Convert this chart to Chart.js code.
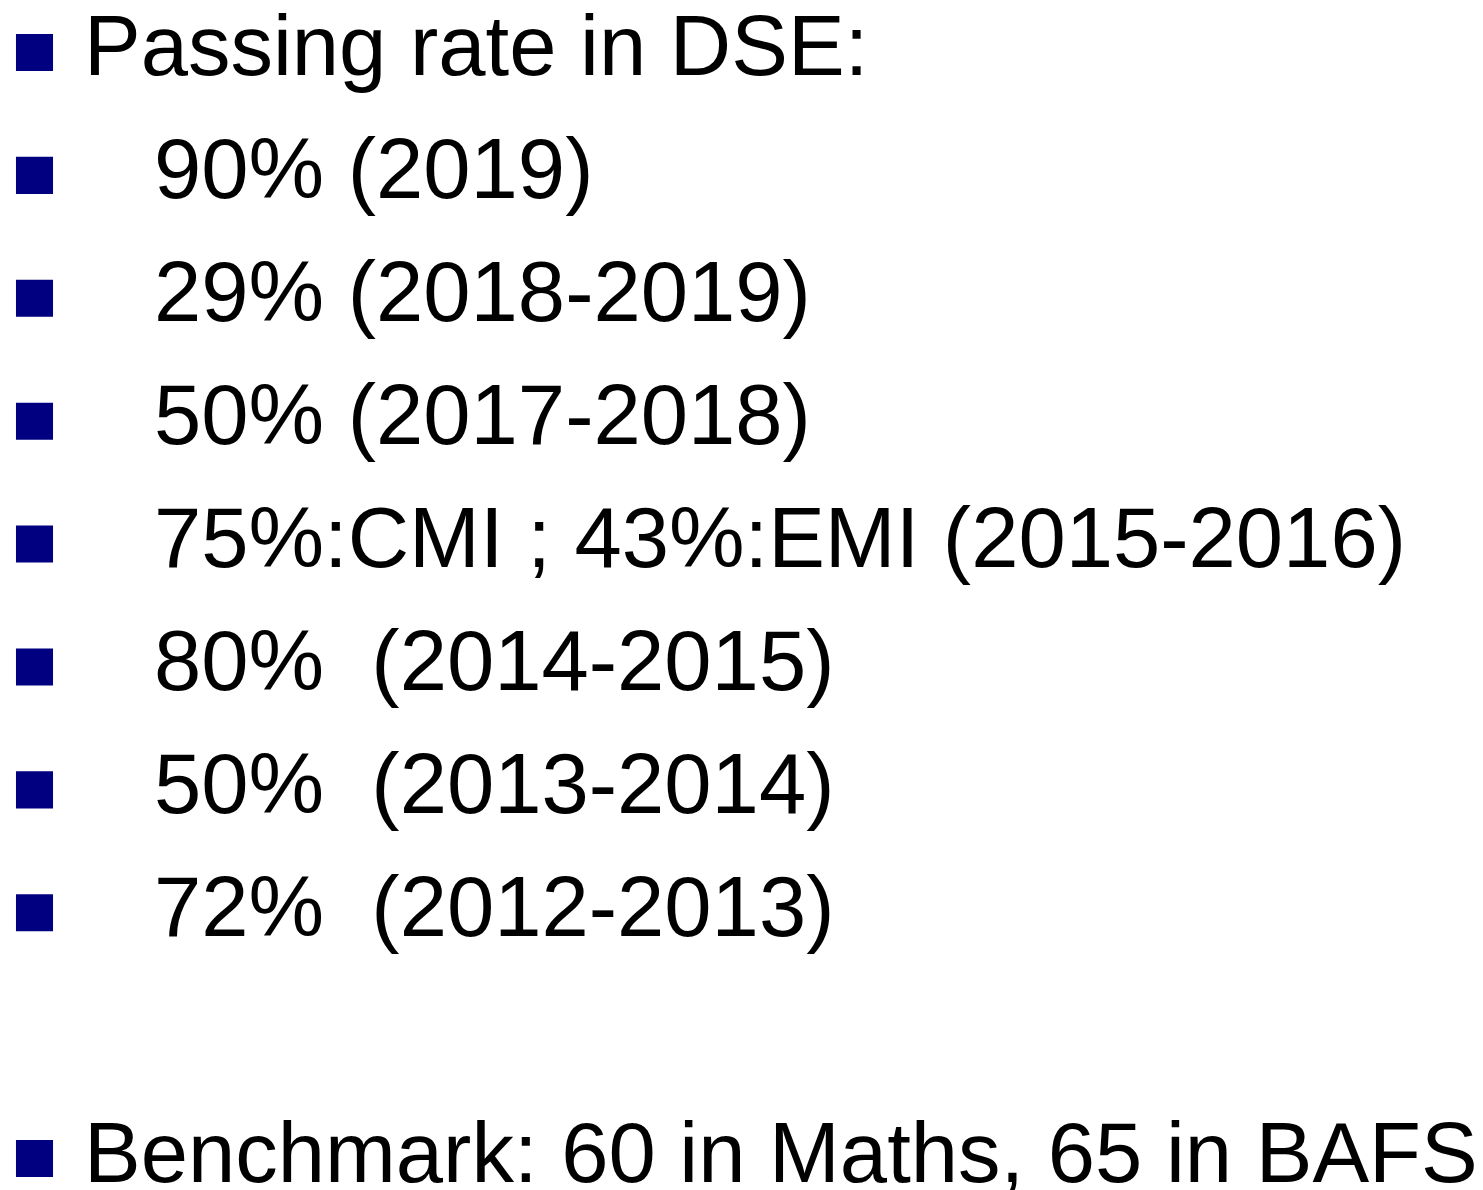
<!DOCTYPE html>
<html>
<head>
<meta charset="utf-8">
<script src="https://cdn.jsdelivr.net/npm/chart.js@4/dist/chart.umd.min.js"></script>
<style>
  html, body { margin: 0; padding: 0; background: #ffffff; }
  #wrap { width: 1483px; height: 1190px; position: relative; }
</style>
</head>
<body>
<div id="wrap"><canvas id="c" width="1483" height="1190"></canvas></div>
<script>
// ---- content ----
const lines = [
  "Passing rate in DSE:",
  "90% (2019)",
  "29% (2018-2019)",
  "50% (2017-2018)",
  "75%:CMI ; 43%:EMI (2015-2016)",
  "80%  (2014-2015)",
  "50%  (2013-2014)",
  "72%  (2012-2013)",
  "Benchmark: 60 in Maths, 65 in BAFS"
];
const levels = [0, 1, 1, 1, 1, 1, 1, 1, 0];   // 0 = main point, 1 = indented sub point
const rows   = [0, 1, 2, 3, 4, 5, 6, 7, 9];   // line slot of each bullet (slot 8 is blank)

// ---- styling (not data) ----
const BULLET_COLOR = '#000080';
const TEXT_COLOR = '#000000';
const FONT_SIZE = 85;
const FONT_FAMILY = '"Liberation Sans", Arial, sans-serif';
const INDENT = [49.5, 119.5];   // text start offset from bullet centre, per level
const BASELINE_SHIFT = 23;      // baseline below bullet centre

const textPlugin = {
  id: 'bulletText',
  afterDatasetsDraw(chart) {
    const ctx = chart.ctx;
    const xs = chart.scales.x, ys = chart.scales.y;
    ctx.save();
    ctx.fillStyle = TEXT_COLOR;
    ctx.font = FONT_SIZE + 'px ' + FONT_FAMILY;
    ctx.textBaseline = 'alphabetic';
    ctx.textAlign = 'left';
    lines.forEach((t, i) => {
      const x = xs.getPixelForValue(INDENT[levels[i]]);
      const y = ys.getPixelForValue(rows[i]) + BASELINE_SHIFT;
      ctx.fillText(t, x, y);
    });
    ctx.restore();
  }
};

new Chart(document.getElementById('c'), {
  type: 'scatter',
  data: {
    datasets: [{
      data: rows.map(r => ({ x: 0, y: r })),
      pointStyle: 'rect',
      pointRadius: 26.2,
      pointHoverRadius: 26.2,
      backgroundColor: BULLET_COLOR,
      borderColor: BULLET_COLOR,
      borderWidth: 0,
      clip: false
    }]
  },
  options: {
    responsive: false,
    animation: false,
    events: [],
    layout: { padding: 0, autoPadding: false },
    plugins: { legend: { display: false }, tooltip: { enabled: false } },
    scales: {
      x: { type: 'linear', display: false, min: -34.5, max: 1448.5 },
      y: { type: 'linear', display: false, reverse: true, min: -0.427, max: 9.256 }
    }
  },
  plugins: [textPlugin]
});
</script>
</body>
</html>
